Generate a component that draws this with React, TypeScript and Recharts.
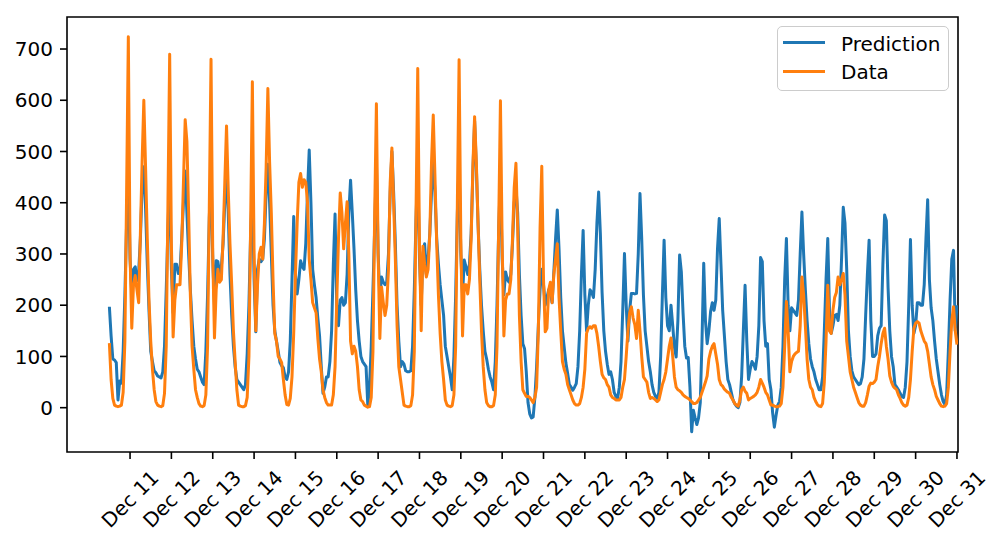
import { LineChart, Line, XAxis, YAxis, ReferenceArea } from "recharts";

// ── Hourly bike rentals, Dec 10 21:00 → Dec 31 11:00 ─────────────
// one row per calendar day; Dec 24 / Dec 25 miss one early hour

const dayLabels = [
  "Dec 11", "Dec 12", "Dec 13", "Dec 14", "Dec 15", "Dec 16", "Dec 17",
  "Dec 18", "Dec 19", "Dec 20", "Dec 21", "Dec 22", "Dec 23", "Dec 24",
  "Dec 25", "Dec 26", "Dec 27", "Dec 28", "Dec 29", "Dec 30", "Dec 31",
];
const yTicks = [0, 100, 200, 300, 400, 500, 600, 700];

const predictionByDay: number[][] = [
  [197, 140, 95], // Dec 10 (last 3 h)
  [93, 88, 15, 52, 48, 110, 220, 360, 460, 290, 222, 270, 275, 248, 265, 330, 430, 470, 390, 280, 190, 110, 90, 72],
  [68, 62, 60, 58, 70, 120, 230, 350, 450, 270, 185, 280, 280, 262, 268, 330, 400, 462, 380, 300, 230, 170, 120, 95],
  [75, 70, 60, 50, 45, 110, 220, 370, 460, 290, 200, 287, 285, 262, 275, 320, 400, 460, 380, 260, 180, 120, 80, 55],
  [50, 45, 40, 35, 45, 105, 200, 340, 430, 250, 148, 270, 290, 285, 290, 330, 420, 475, 400, 300, 200, 150, 130, 110],
  [88, 82, 78, 60, 55, 70, 130, 250, 373, 260, 222, 250, 287, 275, 270, 320, 420, 503, 400, 270, 240, 215, 175, 140],
  [80, 28, 40, 60, 60, 90, 150, 280, 378, 200, 160, 210, 215, 200, 205, 260, 380, 444, 380, 310, 230, 170, 130, 100],
  [90, 85, 80, 5, 40, 120, 230, 350, 480, 300, 215, 255, 245, 240, 245, 300, 420, 500, 420, 320, 200, 130, 80, 90],
  [85, 72, 70, 70, 72, 120, 230, 370, 470, 290, 200, 300, 320, 260, 290, 340, 420, 480, 420, 330, 280, 240, 210, 180],
  [120, 100, 80, 60, 35, 100, 220, 380, 480, 300, 220, 288, 275, 260, 280, 340, 460, 560, 470, 360, 270, 200, 150, 110],
  [95, 75, 60, 50, 35, 90, 200, 350, 450, 290, 220, 265, 250, 245, 260, 320, 400, 430, 380, 260, 180, 125, 115, 70],
  [10, -12, -20, -18, 20, 80, 160, 230, 270, 240, 200, 215, 230, 225, 205, 265, 330, 386, 310, 215, 150, 118, 87, 67],
  [45, 40, 34, 40, 47, 80, 150, 260, 346, 220, 150, 200, 230, 225, 215, 270, 360, 421, 340, 225, 150, 110, 85, 65],
  [70, 55, 30, 22, 18, 40, 90, 190, 301, 200, 130, 190, 223, 223, 222, 223, 300, 418, 330, 220, 150, 120, 90, 70],
  [45, 30, 22, 18, 30, 100, 220, 327, 215, 160, 150, 200, 160, 118, 99, 170, 298, 265, 185, 120, 97, 98, 40],
  [-47, -5, -20, -33, -20, 10, 130, 282, 170, 125, 150, 188, 205, 190, 210, 310, 369, 280, 190, 140, 90, 55, 45],
  [30, 15, 8, 3, 0, 10, 60, 150, 239, 130, 55, 75, 90, 85, 75, 100, 160, 293, 285, 170, 120, 125, 55, 35],
  [-10, -38, -15, 5, 12, 40, 120, 250, 330, 200, 150, 195, 190, 185, 180, 210, 300, 382, 300, 230, 170, 125, 95, 80],
  [70, 55, 45, 35, 35, 60, 150, 250, 330, 190, 145, 160, 180, 182, 170, 200, 290, 391, 360, 270, 150, 100, 72, 60],
  [55, 50, 45, 47, 60, 95, 180, 260, 327, 170, 100, 100, 105, 140, 155, 160, 280, 376, 365, 235, 150, 100, 80, 45],
  [40, 35, 28, 22, 20, 40, 90, 200, 328, 200, 145, 160, 205, 205, 200, 200, 240, 330, 406, 250, 195, 170, 130, 95],
  [70, 45, 25, 12, 6, 25, 110, 210, 290, 307, 150, 200], // Dec 31 (until 11:00)
];

const dataByDay: number[][] = [
  [126, 55, 18],
  [5, 3, 2, 3, 5, 30, 130, 420, 724, 300, 155, 240, 258, 230, 205, 340, 480, 600, 470, 330, 210, 130, 75, 35],
  [12, 5, 3, 2, 4, 28, 120, 400, 690, 320, 138, 210, 240, 240, 240, 320, 440, 562, 520, 380, 220, 120, 75, 35],
  [20, 8, 3, 2, 4, 25, 120, 390, 680, 300, 136, 230, 270, 245, 250, 330, 440, 550, 425, 320, 240, 150, 90, 35],
  [5, 3, 2, 2, 4, 20, 100, 360, 636, 300, 150, 240, 300, 313, 290, 360, 470, 623, 480, 380, 250, 145, 130, 100],
  [95, 88, 55, 25, 6, 5, 18, 60, 145, 260, 360, 440, 457, 430, 445, 440, 400, 290, 250, 205, 195, 185, 135, 95],
  [70, 35, 20, 10, 5, 5, 5, 25, 80, 210, 330, 419, 380, 310, 360, 402, 300, 130, 105, 120, 110, 80, 35, 15],
  [12, 5, 3, 1, 2, 20, 110, 380, 593, 300, 135, 235, 205, 180, 200, 270, 440, 507, 400, 290, 160, 80, 55, 30],
  [5, 3, 2, 2, 4, 25, 110, 380, 662, 320, 150, 315, 280, 255, 270, 340, 480, 571, 450, 320, 220, 145, 90, 55],
  [15, 5, 3, 2, 4, 25, 120, 400, 679, 330, 140, 240, 240, 222, 250, 330, 470, 568, 480, 360, 250, 150, 80, 35],
  [10, 4, 2, 2, 4, 25, 120, 360, 599, 320, 140, 210, 222, 222, 250, 330, 430, 477, 350, 180, 90, 35, 28, 22],
  [22, 20, 15, 10, 20, 40, 150, 350, 471, 250, 148, 155, 230, 245, 205, 260, 290, 320, 215, 150, 90, 75, 65, 45],
  [35, 25, 15, 8, 5, 5, 8, 20, 40, 75, 145, 155, 158, 155, 160, 160, 145, 120, 90, 65, 58, 55, 45, 40],
  [25, 20, 18, 15, 15, 15, 20, 40, 55, 100, 150, 185, 197, 175, 162, 135, 190, 150, 100, 60, 55, 50, 30, 18],
  [20, 18, 15, 12, 15, 30, 45, 55, 70, 95, 120, 136, 100, 60, 40, 35, 33, 30, 25, 22, 20, 18, 15],
  [12, 8, 8, 10, 15, 20, 30, 40, 50, 62, 95, 110, 120, 125, 105, 85, 55, 45, 42, 36, 33, 30, 28],
  [20, 15, 8, 5, 3, 15, 35, 40, 32, 28, 15, 18, 20, 22, 25, 30, 40, 55, 48, 40, 30, 25, 15, 5],
  [5, 3, 2, 2, 3, 8, 40, 120, 207, 150, 70, 90, 100, 105, 108, 110, 160, 255, 220, 160, 95, 55, 40, 35],
  [20, 12, 6, 3, 2, 8, 50, 130, 239, 150, 145, 190, 215, 225, 255, 240, 250, 262, 220, 130, 100, 70, 55, 40],
  [30, 20, 10, 5, 3, 3, 10, 25, 42, 48, 47, 50, 55, 80, 100, 125, 145, 155, 120, 95, 62, 50, 42, 38],
  [35, 25, 18, 10, 5, 3, 5, 20, 55, 110, 155, 165, 168, 165, 150, 140, 130, 125, 110, 85, 60, 45, 35, 22],
  [15, 8, 3, 2, 3, 8, 40, 110, 170, 197, 150, 123],
];

const prediction = predictionByDay.flat();
const observed = dataByDay.flat();
const rows = prediction.map((p, i) => ({ i, prediction: p, data: observed[i] }));

// matplotlib put a label every 24 rows starting at row 12
const xTicks = dayLabels.map((_, k) => 12 + 24 * k);
const X_DOMAIN: [number, number] = [-24.6, 492.6];
const Y_DOMAIN: [number, number] = [-86.5, 762.5];

const FONT = "'DejaVu Sans', sans-serif";
const BLUE = "#1f77b4";
const ORANGE = "#ff7f0e";

function DateTick({ x, y, payload }: any) {
  const label = dayLabels[Math.round((payload.value - 12) / 24)];
  const cy = y + 33;
  return (
    <text
      x={x}
      y={cy}
      dy="0.35em"
      textAnchor="middle"
      transform={`rotate(-45 ${x} ${cy})`}
      fontSize={20}
      fontFamily={FONT}
      fill="#000"
    >
      {label}
    </text>
  );
}

function ValueTick({ x, y, payload }: any) {
  return (
    <text x={x} y={y} dy="0.36em" textAnchor="end" fontSize={20} fontFamily={FONT} fill="#000">
      {payload.value}
    </text>
  );
}

function ChartLegend() {
  const items = [
    { name: "Prediction", color: BLUE },
    { name: "Data", color: ORANGE },
  ];
  return (
    <div
      style={{
        position: "absolute",
        left: 777,
        top: 26,
        width: 172,
        height: 65,
        boxSizing: "border-box",
        border: "1.6px solid #cccccc",
        borderRadius: 5,
        background: "rgba(255,255,255,0.8)",
        fontFamily: FONT,
      }}
    >
      {items.map((item, k) => (
        <div key={item.name}>
          <span
            style={{
              position: "absolute",
              left: 5,
              top: 14.2 + k * 29,
              width: 42,
              height: 3,
              background: item.color,
            }}
          />
          <span
            style={{
              position: "absolute",
              left: 63,
              top: 4.8 + k * 28.5,
              fontSize: 20,
              lineHeight: "24px",
              color: "#000",
              whiteSpace: "nowrap",
            }}
          >
            {item.name}
          </span>
        </div>
      ))}
    </div>
  );
}

export default function App() {
  return (
    <div
      style={{
        position: "absolute",
        left: 0,
        top: 0,
        width: 1005,
        height: 544,
        background: "#fff",
        fontFamily: FONT,
      }}
    >
      <LineChart width={1005} height={544} data={rows} margin={{ top: 17, right: 47, bottom: 12, left: 7 }}>
        <XAxis
          dataKey="i"
          type="number"
          domain={X_DOMAIN}
          allowDataOverflow
          ticks={xTicks}
          interval={0}
          height={80}
          tickSize={7}
          tickMargin={7}
          axisLine={false}
          tickLine={{ stroke: "#000", strokeWidth: 1.6 }}
          tick={(p: any) => <DateTick {...p} />}
        />
        <YAxis
          type="number"
          domain={Y_DOMAIN}
          allowDataOverflow
          ticks={yTicks}
          interval={0}
          width={60}
          tickSize={7}
          tickMargin={7}
          axisLine={false}
          tickLine={{ stroke: "#000", strokeWidth: 1.6 }}
          tick={(p: any) => <ValueTick {...p} />}
        />
        <Line
          type="linear"
          dataKey="prediction"
          name="Prediction"
          stroke={BLUE}
          strokeWidth={3}
          strokeLinejoin="round"
          dot={false}
          isAnimationActive={false}
        />
        <Line
          type="linear"
          dataKey="data"
          name="Data"
          stroke={ORANGE}
          strokeWidth={3}
          strokeLinejoin="round"
          dot={false}
          isAnimationActive={false}
        />
        <ReferenceArea
          x1={X_DOMAIN[0]}
          x2={X_DOMAIN[1]}
          y1={Y_DOMAIN[0]}
          y2={Y_DOMAIN[1]}
          fill="none"
          stroke="#000"
          strokeWidth={1.6}
          ifOverflow="visible"
        />
      </LineChart>
      <ChartLegend />
    </div>
  );
}
